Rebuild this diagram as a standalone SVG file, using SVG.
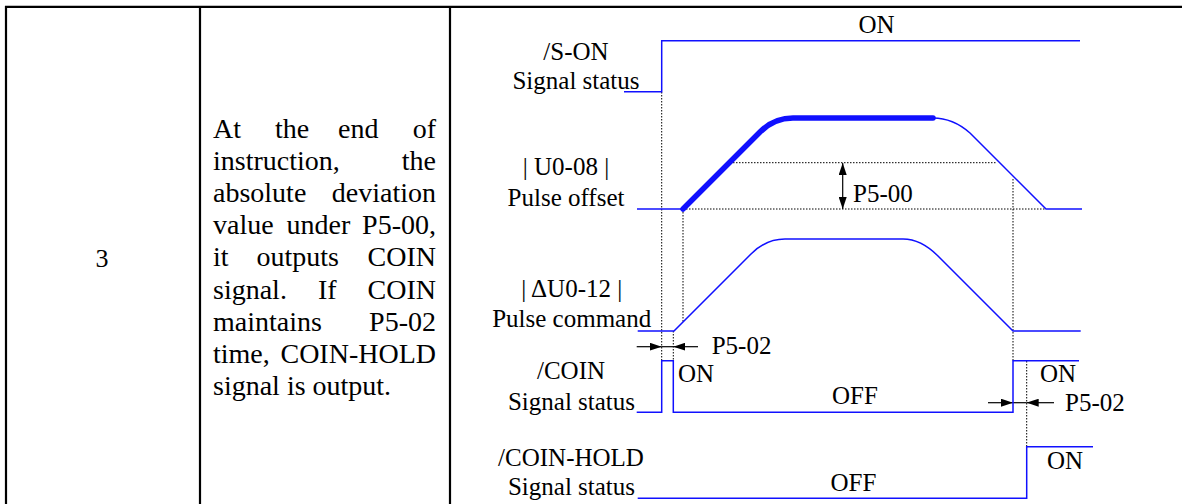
<svg xmlns="http://www.w3.org/2000/svg" width="1182" height="504" viewBox="0 0 1182 504" font-family="'Liberation Serif', 'Times New Roman', serif">
<style>
.body-txt{font-family:'Liberation Serif','Times New Roman',serif;font-size:28px;fill:#000}
.lbl{font-family:'Liberation Serif','Times New Roman',serif;font-size:25px;fill:#000}
.end{text-anchor:end}
.mid{text-anchor:middle}
.grid{stroke:#000;stroke-width:2.2;fill:none}
.sig{stroke:#1010ff;stroke-width:1.5;fill:none}
.thick{stroke:#1010ff;stroke-width:5.5;fill:none;stroke-linecap:round;stroke-linejoin:round}
.dot{stroke:#000;stroke-width:1;fill:none;stroke-dasharray:1.5 1.5}
.arr{stroke:#000;stroke-width:1.2;fill:none}
</style>
<defs>
<marker id="ah" viewBox="0 0 12 8" refX="12" refY="4" markerWidth="12" markerHeight="8" markerUnits="userSpaceOnUse" orient="auto-start-reverse">
<path d="M0,0 L12,4 L0,8 z" fill="#000"/>
</marker>
</defs>
<rect width="1182" height="504" fill="#fff"/>
<g id="table" class="grid">
<line x1="5" y1="6.8" x2="1182" y2="6.8"/>
<line x1="6" y1="6" x2="6" y2="504"/>
<line x1="200" y1="6" x2="200" y2="504"/>
<line x1="450" y1="6" x2="450" y2="504"/>
</g>
<g id="number"><text class="body-txt mid" x="102" y="266.5" style="font-size:26px">3</text></g>
<g id="description">
<text class="body-txt" x="213" y="137.5">At</text><text class="body-txt" x="275" y="137.5">the</text><text class="body-txt" x="338" y="137.5">end</text><text class="body-txt end" x="436" y="137.5">of</text>
<text class="body-txt" x="213" y="169.7">instruction,</text><text class="body-txt end" x="436" y="169.7">the</text>
<text class="body-txt" x="213" y="201.9">absolute</text><text class="body-txt end" x="436" y="201.9">deviation</text>
<text class="body-txt" x="213" y="234.1">value</text><text class="body-txt" x="286.5" y="234.1">under</text><text class="body-txt end" x="436" y="234.1">P5-00,</text>
<text class="body-txt" x="213" y="266.3">it</text><text class="body-txt" x="256.5" y="266.3">outputs</text><text class="body-txt end" x="436" y="266.3">COIN</text>
<text class="body-txt" x="213" y="298.5">signal.</text><text class="body-txt" x="318" y="298.5">If</text><text class="body-txt end" x="436" y="298.5">COIN</text>
<text class="body-txt" x="213" y="330.7">maintains</text><text class="body-txt end" x="436" y="330.7">P5-02</text>
<text class="body-txt" x="213" y="362.9">time,</text><text class="body-txt end" x="436" y="362.9">COIN-HOLD</text>
<text class="body-txt" x="213" y="395.1">signal is output.</text>
</g>
<g id="connectors">
<line class="dot" x1="661.7" y1="92" x2="661.7" y2="361"/>
<line class="dot" x1="683" y1="209" x2="683" y2="322"/>
<line class="dot" x1="673.3" y1="331" x2="673.3" y2="361"/>
<line class="dot" x1="1013" y1="179" x2="1013" y2="361"/>
<line class="dot" x1="1026.7" y1="361" x2="1026.7" y2="447"/>
<line class="dot" x1="730" y1="162.7" x2="997" y2="162.7"/>
<line class="dot" x1="683" y1="209" x2="1045" y2="209"/>
<line class="arr" x1="842.7" y1="163" x2="842.7" y2="209" marker-start="url(#ah)" marker-end="url(#ah)"/>
<line class="arr" x1="636.7" y1="346.7" x2="661.7" y2="346.7" marker-end="url(#ah)"/>
<line class="arr" x1="661.7" y1="346.7" x2="673.3" y2="346.7"/>
<line class="arr" x1="698" y1="346.7" x2="673.3" y2="346.7" marker-end="url(#ah)"/>
<line class="arr" x1="988" y1="402.7" x2="1013" y2="402.7" marker-end="url(#ah)"/>
<line class="arr" x1="1013" y1="402.7" x2="1026.7" y2="402.7"/>
<line class="arr" x1="1054" y1="402.7" x2="1026.7" y2="402.7" marker-end="url(#ah)"/>
</g>
<g id="s-on">
<text class="lbl mid" x="576" y="60">/S-ON</text>
<text class="lbl mid" x="576" y="89">Signal status</text>
<path class="sig" d="M624,91.7 H661.7 V40.7 H1080"/>
<text class="lbl mid" x="876.5" y="33">ON</text>
</g>
<g id="pulse-offset">
<text class="lbl mid" x="566" y="175">| U0-08 |</text>
<text class="lbl mid" x="566" y="205.5">Pulse offset</text>
<path class="sig" d="M637,209 H683"/>
<path class="thick" d="M683,209 L760,132 Q774,118 793,118 L933,118"/>
<path class="sig" d="M933,118 Q953,118 970,133 L1046,209 H1082"/>
<text class="lbl" x="853" y="201.5">P5-00</text>
</g>
<g id="pulse-command">
<text class="lbl mid" x="571.7" y="296.7">| ΔU0-12 |</text>
<text class="lbl mid" x="571.7" y="327.3">Pulse command</text>
<path class="sig" d="M637.7,331 H674 L751,254 Q766,239 785,239 H903 Q921,239 938,256 L1013,331 H1080.7"/>
<text class="lbl" x="711.7" y="354">P5-02</text>
</g>
<g id="coin">
<text class="lbl mid" x="571" y="379.3">/COIN</text>
<text class="lbl mid" x="571.5" y="410">Signal status</text>
<path class="sig" d="M636.7,412.3 H661.7 V360.7 H673.3 V412.3 H1013 V360.7 H1079"/>
<text class="lbl" x="678" y="381.7">ON</text>
<text class="lbl mid" x="855" y="404.3">OFF</text>
<text class="lbl" x="1040" y="381.7">ON</text>
<text class="lbl" x="1065" y="411">P5-02</text>
</g>
<g id="coin-hold">
<text class="lbl mid" x="571" y="466">/COIN-HOLD</text>
<text class="lbl mid" x="571.5" y="495">Signal status</text>
<path class="sig" d="M637.7,498.3 H1026.7 V446.7 H1093"/>
<text class="lbl" x="1047" y="469.3">ON</text>
<text class="lbl mid" x="853.5" y="490.7">OFF</text>
</g>
</svg>
